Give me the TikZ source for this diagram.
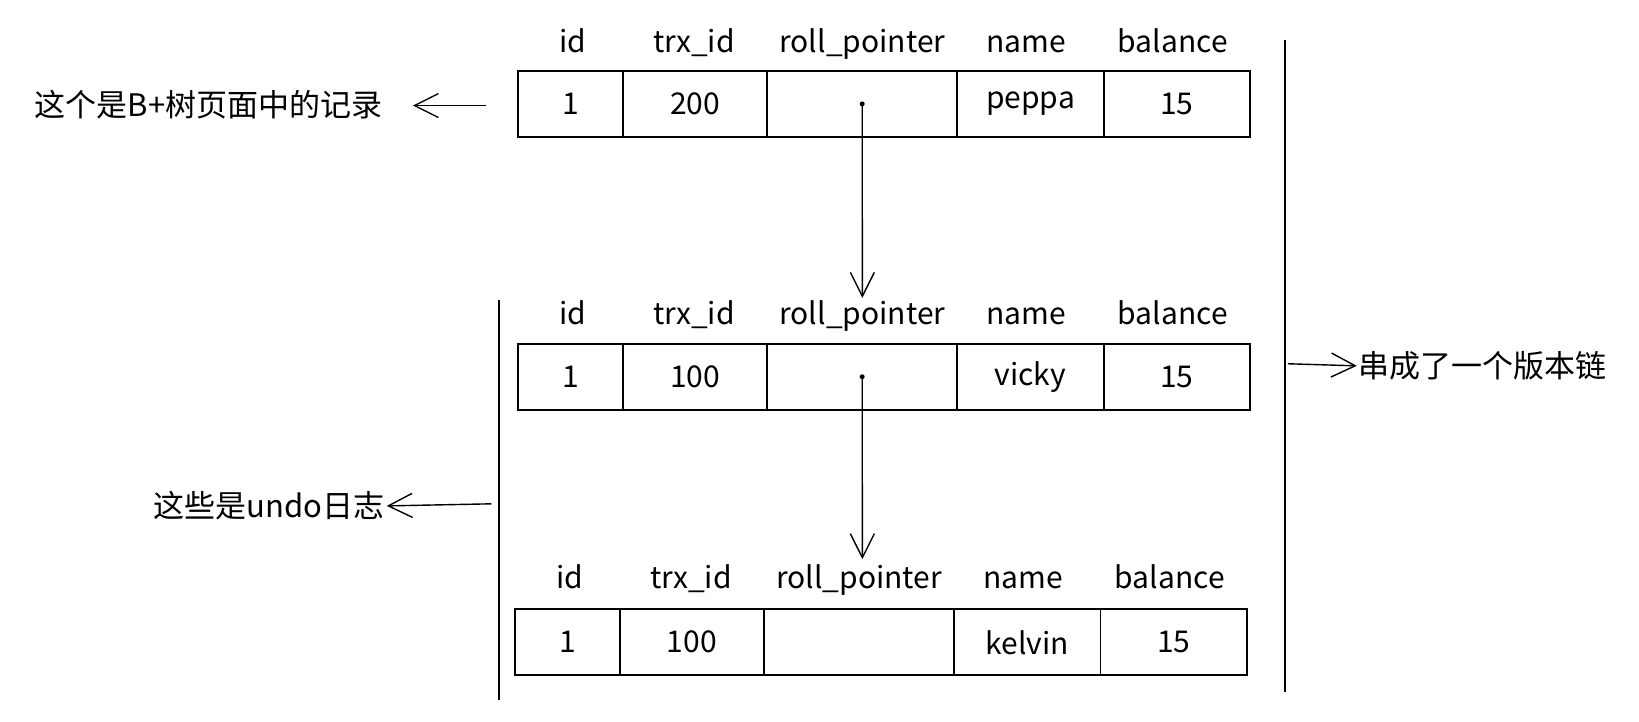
\documentclass[tikz,border=0pt]{standalone}
\usepackage{fontspec}
\setmainfont{Noto Sans CJK SC}
\usetikzlibrary{arrows.meta}
\begin{document}
\begin{tikzpicture}[x=1.0453pt,y=-1.0453pt,
  cell/.style={draw,line width=1.8pt,inner sep=0pt,font=\fontsize{30}{32}\selectfont},
  hdr/.style={font=\fontsize{30}{32}\selectfont,anchor=base},
  lbl/.style={font=\fontsize{31}{33}\selectfont},
  arr/.style={line width=1.4pt,-{Straight Barb[length=24pt,width=24pt]}},
  vline/.style={line width=2pt}]
\useasboundingbox (0,0) rectangle (1568,690);
\foreach \r/\top/\hy/\a/\b/\n/\dx in {A/67/50/1/200/peppa/0, B/328/310/1/100/vicky/0, C/582/563/1/100/kelvin/-3}{
  \node[cell,minimum width=104.5pt,minimum height=66pt,anchor=north west] (\r1) at (495+\dx,\top) {\a};
  \node[cell,minimum width=144.3pt,minimum height=66pt,anchor=north west] (\r2) at (595+\dx,\top) {\b};
  \node[cell,minimum width=190.2pt,minimum height=66pt,anchor=north west] (\r3) at (733+\dx,\top) {};
  \node[cell,minimum width=146.3pt,minimum height=66pt,anchor=north west] (\r4) at (915+\dx,\top) {\n};
  \node[cell,minimum width=146.3pt,minimum height=66pt,anchor=north west] (\r5) at (1055+\dx,\top) {15};
  \node[hdr] (\r h1) at (548+\dx,\hy) {id};
  \node[hdr] (\r h2) at (664+\dx,\hy) {trx\_id};
  \node[hdr] (\r h3) at (825+\dx,\hy) {roll\_pointer};
  \node[hdr] (\r h4) at (982+\dx,\hy) {name};
  \node[hdr] (\r h5) at (1122+\dx,\hy) {balance};
}
\fill (A3.center) circle (2.5pt);
\fill (B3.center) circle (2.5pt);
\coordinate (p1) at (825,285);
\coordinate (p2) at (825,535);
\draw[arr] (A3.center) -- (p1);
\draw[arr] (B3.center) -- (p2);
\coordinate (r1) at (1229,38); \coordinate (r2) at (1229,662);
\draw[vline] (r1) -- (r2);
\coordinate (ra) at (1232,348);
\node[lbl,anchor=west,inner sep=2pt] (rt) at (1298,350) {串成了一个版本链};
\draw[arr] (ra) -- (rt.west);
\coordinate (l1) at (477,287); \coordinate (l2) at (477,670);
\draw[vline] (l1) -- (l2);
\coordinate (la) at (470,482);
\node[lbl,anchor=east,inner sep=2pt] (lt) at (370,484) {这些是undo日志};
\draw[arr] (la) -- (lt.east);
\coordinate (ta) at (465,101);
\node[lbl,anchor=east,inner sep=0pt] (tt) at (366,100) {这个是B+树页面中的记录};
\coordinate (tb) at (395,101);
\draw[arr] (ta) -- (tb);
\end{tikzpicture}
\end{document}
